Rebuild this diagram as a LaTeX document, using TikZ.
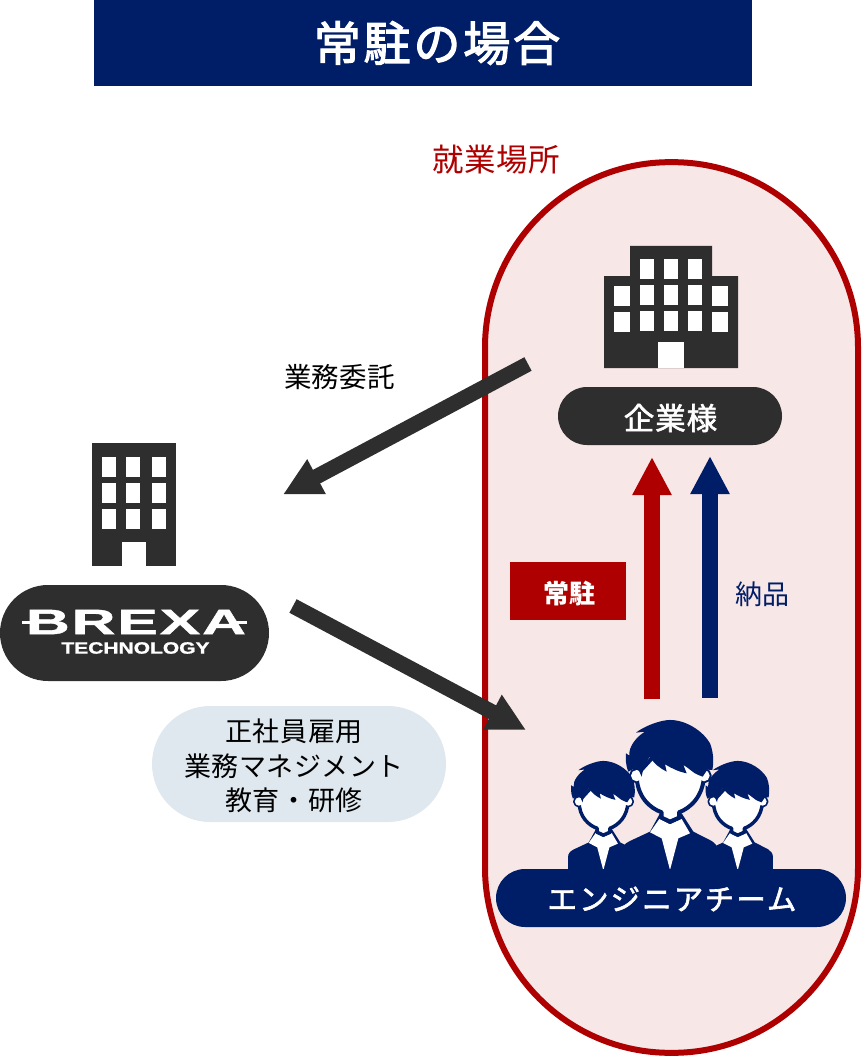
\documentclass[tikz,border=0pt]{standalone}
\usepackage{fontspec}
\usetikzlibrary{arrows.meta}
\setmainfont{Noto Sans CJK JP}
\newfontfamily\logofont{Liberation Sans}[FakeBold=1]
\definecolor{navy}{HTML}{001D67}
\definecolor{dred}{HTML}{AE0000}
\definecolor{pinkbg}{HTML}{F7E7E7}
\definecolor{dark}{HTML}{2E2E2E}
\definecolor{paleblue}{HTML}{DFE8EF}
\newcommand{\fs}[3]{\fontsize{\dimexpr#1pt*3/4\relax}{\dimexpr#2pt*3/4\relax}\selectfont\addfontfeature{LetterSpace=#3}}
\newcommand{\heavytext}[1]{\special{pdf:code 2 Tr #1 w 1 1 1 RG}}
\tikzset{
  x=0.75pt,y=-0.75pt,
  pill/.style={rounded corners=#1,inner sep=0pt,anchor=center},
  lbl/.style={inner sep=0pt,anchor=center,align=center},
  bigarrow/.style={line width=11.5pt,-{Triangle[length=28.5pt,width=27.5pt]},#1},
  personhead/.style={fill=white,draw=navy,line join=round},
}
% person silhouette: origin at the chin, one unit = a third of a pixel
\newcommand{\person}[4]{%
\begin{scope}[shift={(#1,#2)},scale=#3/3]
  \fill[navy] (-145,165) -- (-145,100) .. controls (-145,85) and (-135,75) .. (-120,68) -- (-60,40) -- (-30,-15) -- (35,-15) -- (70,40) -- (125,68) .. controls (135,75) and (145,85) .. (145,100) -- (145,165) -- cycle;
  \fill[white] (-60,42) -- (-32,2) -- (0,18) -- (35,2) -- (60,45) -- (25,60) -- (0,155) -- (-25,60) -- cycle;
  \draw[personhead,line width=#4] (-100,-128) circle[radius=17];
  \draw[personhead,line width=#4] (102,-128) circle[radius=17];
  \draw[personhead,line width=#4] (-100,-130) .. controls (-100,-65) and (-60,-30) .. (-25,-18) -- (-25,-2) -- (0,10) -- (27,-2) -- (27,-18) .. controls (60,-30) and (100,-65) .. (102,-130) -- (0,-240) -- cycle;
  \fill[white] (-100,-128) circle[radius=17];
  \fill[white] (102,-128) circle[radius=17];
  \fill[navy] (-125,-140) .. controls (-135,-165) and (-132,-180) .. (-132,-195) -- (-122,-188) .. controls (-125,-215) and (-100,-245) .. (-75,-260) -- (-102,-257) .. controls (-80,-275) and (-30,-295) .. (0,-295) .. controls (50,-295) and (100,-260) .. (120,-225) .. controls (130,-200) and (132,-170) .. (127,-145) -- (112,-146) -- (98,-125) -- (85,-130) .. controls (70,-135) and (58,-150) .. (40,-160) -- (50,-135) .. controls (25,-140) and (5,-150) .. (-15,-162) -- (-10,-140) .. controls (-30,-150) and (-50,-165) .. (-60,-185) .. controls (-72,-170) and (-80,-155) .. (-85,-125) -- (-95,-147) -- (-112,-147) -- cycle;
\end{scope}}
\begin{document}
\begin{tikzpicture}
\useasboundingbox (0,0) rectangle (862,1059);
% title
\node[fill=navy,minimum width=493.5pt,minimum height=64.5pt,inner sep=0pt] (title) at (423,43) {};
\node[lbl,text=white] (titletext) at (437,43) {\heavytext{0.9}\fs{47}{54}{6}常駐の場合};
% workplace capsule
\node[pill=139pt,draw=dred,line width=4.5pt,fill=pinkbg,minimum width=279.75pt,minimum height=668pt] (site) at (671.5,607.5) {};
\node[lbl,text=dred] (sitelabel) at (496,160) {\fs{31.5}{36}{1.5}就業場所};
% client building
\fill[dark] (630,246) -- (712,246) -- (712,276) -- (738,276) -- (738,368) -- (604,368) -- (604,276) -- (630,276) -- cycle;
\foreach \wx in {640,664,688}{\foreach \wy in {259,285,311}{\fill[white] (\wx,\wy) rectangle ++(14,20);}}
\foreach \wx in {614,712}{\foreach \wy in {286,312}{\fill[white] (\wx,\wy) rectangle ++(16,20);}}
\fill[white] (658,342) rectangle (684,368);
\node[pill=21.75pt,fill=dark,minimum width=168pt,minimum height=43.5pt] (client) at (670,416) {};
\node[lbl,text=white] (clienttext) at (670.5,418) {\heavytext{0.45}\fs{30.5}{34}{3}企業様};
% BREXA building
\fill[dark] (92,443) rectangle (176,566);
\foreach \wx in {102,126,152}{\foreach \wy in {457,483,509}{\fill[white] (\wx,\wy) rectangle ++(14,20);}}
\fill[white] (122,542) rectangle (146,566);
% BREXA logo
\node[pill=36pt,fill=dark,minimum width=201.75pt,minimum height=72pt] (brexa) at (134.5,633) {};
\node[lbl,text=white,xscale=1.72] (brexaname) at (136,622) {\logofont\bfseries\fontsize{26.5pt}{27pt}\selectfont\addfontfeature{LetterSpace=3}BREXA};
\fill[white] (22,621) rectangle (38,624);
\fill[white] (232,621) rectangle (247,624);
\node[lbl,text=white,xscale=1.28] (brexatech) at (135.5,648) {\logofont\bfseries\fontsize{12.3pt}{13pt}\selectfont TECHNOLOGY};
% pale note
\node[pill=43.5pt,fill=paleblue,minimum width=220.5pt,minimum height=87pt] (note) at (299,764) {};
\node[lbl,text=black,font={\fs{27}{34.5}{2}}] (notetext) at (294,766) {正社員雇用\\業務マネジメント\\教育・研修};
% labels
\node[lbl,text=black] (itaku) at (339.5,377) {\fs{27.5}{32}{0.8}業務委託};
\node[fill=dred,minimum width=87pt,minimum height=43.5pt,inner sep=0pt] (jochu) at (568,591) {};
\node[lbl,text=white] (jochutext) at (569,594) {\bfseries\fs{26}{30}{0}常駐};
\node[lbl,text=navy] (nohin) at (762.5,594) {\fs{27}{32}{1}納品};
% people
\person{603.3}{832.7}{0.73}{2.6pt}
\person{737.7}{832.7}{0.73}{2.6pt}
\person{670}{818.3}{1}{3pt}
\node[pill=21.75pt,fill=navy,minimum width=262.5pt,minimum height=43.5pt] (team) at (671,898) {};
\node[lbl,text=white] (teamtext) at (672,899) {\heavytext{0.45}\fs{29.5}{34}{7}エンジニアチーム};
% arrows
\coordinate (a1s) at (528,364);
\coordinate (a1e) at (283,494.5);
\coordinate (a2s) at (293,606);
\coordinate (a2e) at (526,730);
\coordinate (a3s) at (652,699);
\coordinate (a3e) at (652,457);
\coordinate (a4s) at (710,698);
\coordinate (a4e) at (710,456);
\draw[bigarrow=dark,color=dark] (a1s) -- (a1e);
\draw[bigarrow=dark,color=dark] (a2s) -- (a2e);
\draw[bigarrow=dred,color=dred] (a3s) -- (a3e);
\draw[bigarrow=navy,color=navy] (a4s) -- (a4e);
\end{tikzpicture}
\end{document}
